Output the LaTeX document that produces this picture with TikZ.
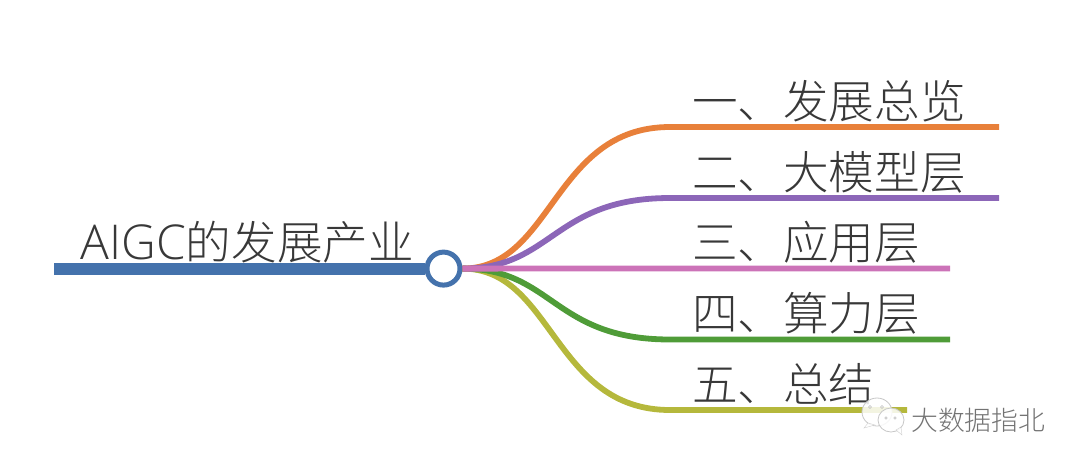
\documentclass[tikz,border=0pt]{standalone}
\usepackage{fontspec}
\setmainfont{Open Sans Light}
\newfontfamily\cjk{Noto Sans CJK SC Light}
\definecolor{cmain}{HTML}{4472AC}
\definecolor{corange}{HTML}{E8803A}
\definecolor{cpurple}{HTML}{8C66B8}
\definecolor{cpink}{HTML}{CC73B8}
\definecolor{cgreen}{HTML}{4F9C38}
\definecolor{colive}{HTML}{B5B83C}
\definecolor{ctext}{HTML}{383838}
\tikzset{
  x=1pt,y=-1pt,
  branch/.style={line width=5.8pt,line cap=butt},
  label/.style={font=\fontsize{45.6}{46}\selectfont,text=ctext,anchor=base west,inner sep=0pt,outer sep=0pt},
  bubble/.style={draw=black!22,fill=white,line width=0.8pt},
}
\begin{document}
\begin{tikzpicture}
\useasboundingbox (0,0) rectangle (1080,467);
\coordinate (start) at (54,269);
\coordinate (o1) at (670,127); \coordinate (e1) at (999,127);
\coordinate (o2) at (670,198); \coordinate (e2) at (999,198);
\coordinate (e3) at (950,268.5);
\coordinate (o4) at (670,339.5); \coordinate (e4) at (950,339.5);
\coordinate (o5) at (670,410); \coordinate (e5) at (907,410);
\node[circle,draw=cmain,fill=white,line width=5pt,minimum size=33pt,inner sep=0pt] (hub) at (443.5,268.6) {};
\draw[cmain,line width=11.5pt] (start) -- (start -| hub.west);
\draw[branch,colive] (hub.east) .. controls (553,268.5) and (553,410) .. (o5) -- (e5);
\draw[branch,cgreen] (hub.east) .. controls (553,268.5) and (553,339.5) .. (o4) -- (e4);
\draw[branch,corange] (hub.east) .. controls (553,268.5) and (553,127) .. (o1) -- (e1);
\draw[branch,cpurple] (hub.east) .. controls (553,268.5) and (553,198) .. (o2) -- (e2);
\draw[branch,cpink] (hub.east) -- (e3);
\node[label] (t0) at (80.5,259) {\fontsize{48}{48}\selectfont AIGC{\fontsize{45.6}{46}\selectfont\cjk 的发展产业}};
\node[label] (t1) at (692,118) {\cjk 一、发展总览};
\node[label] (t2) at (692,189) {\cjk 二、大模型层};
\node[label] (t3) at (692,259) {\cjk 三、应用层};
\node[label] (t4) at (692,330) {\cjk 四、算力层};
\node[label] (t5) at (692,401) {\cjk 五、总结};
% watermark icon
\draw[bubble,fill opacity=0.85] (877,412) ellipse (15 and 14);
\fill[white,opacity=.85,draw=black!22] (868,423) -- (864,428) -- (875,425) -- cycle;
\draw[bubble,fill opacity=0.85] (891,420) ellipse (13 and 12);
\fill[white,opacity=.85,draw=black!22] (896,430) -- (902,435) -- (901,427) -- cycle;
\draw[black!25,line width=.6pt] (870,407) circle (1.5) (882,407) circle (1.5) (886,418) circle (1.3) (895,418) circle (1.3);
\node[font=\cjk\fontsize{26.8}{26.8}\selectfont,text=black!55,anchor=base west,inner sep=0pt] (wm) at (911,430) {大数据指北};
\end{tikzpicture}
\end{document}
